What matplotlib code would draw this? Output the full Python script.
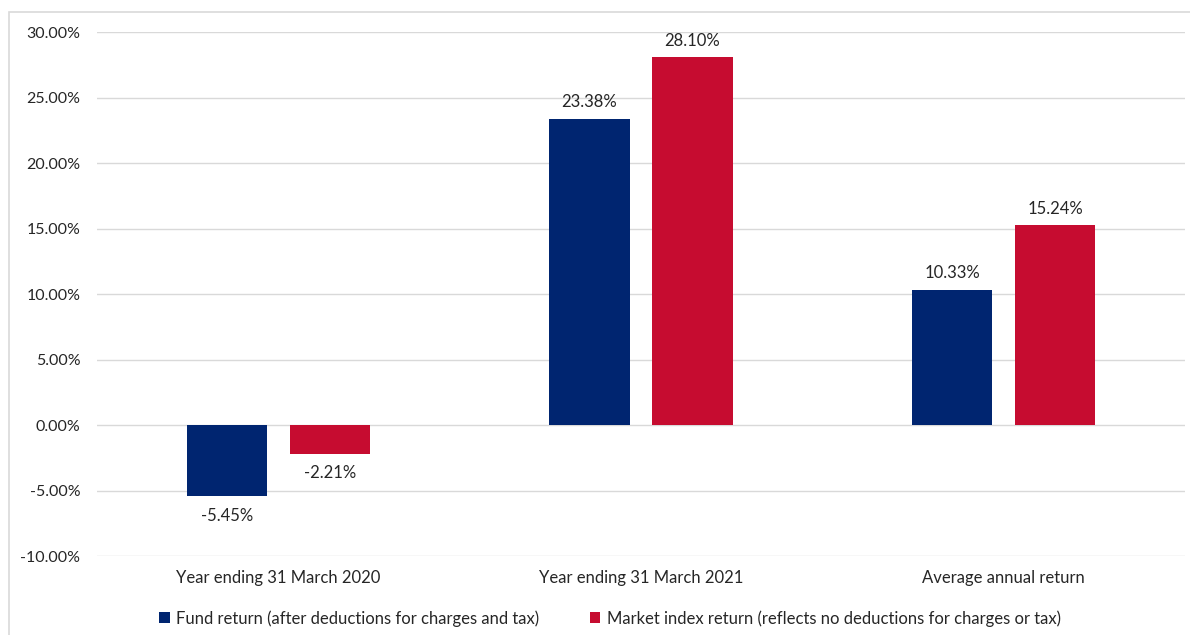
import matplotlib.pyplot as plt
import matplotlib.patches as mpatches
import numpy as np

categories = ["Year ending 31 March 2020", "Year ending 31 March 2021", "Average annual return"]
fund = [-5.45, 23.38, 10.33]
market = [-2.21, 28.10, 15.24]
series_names = ["Fund return (after deductions for charges and tax)",
                "Market index return (reflects no deductions for charges or tax)"]
yticks = [-10, -5, 0, 5, 10, 15, 20, 25, 30]

blue = "#002570"
red = "#C60C30"
plt.rcParams['font.family'] = ['Lato', 'DejaVu Sans']

fig = plt.figure(figsize=(11.9, 6.35), dpi=100)
ax = fig.add_axes([0.0815, 0.1244, 0.9143, 0.8252])

# light border around the chart area
fig.patches.append(mpatches.Rectangle((9 / 1190, -0.1), 1.2, 1 - 12 / 635 + 0.1,
                                      transform=fig.transFigure, fill=False,
                                      edgecolor="#d9d9d9", linewidth=1.2))

x = np.arange(len(categories))
w = 0.222
off = 0.142
b1 = ax.bar(x - off, fund, w, color=blue, label=series_names[0], zorder=3)
b2 = ax.bar(x + off, market, w, color=red, label=series_names[1], zorder=3)

for bars in (b1, b2):
    for r in bars:
        v = r.get_height()
        cx = r.get_x() + r.get_width() / 2
        if v >= 0:
            ax.annotate(f"{v:.2f}%", (cx, v), xytext=(0, 6), textcoords="offset points",
                        ha="center", va="bottom", fontsize=12, color="#262626")
        else:
            ax.annotate(f"{v:.2f}%", (cx, v), xytext=(0, -8), textcoords="offset points",
                        ha="center", va="top", fontsize=12, color="#262626")

ax.set_xlim(-0.5, 2.5)
ax.set_ylim(-10, 30)
ax.set_yticks(yticks)
ax.set_yticklabels([f"{t:.2f}%" for t in yticks], fontsize=11.5, color="#262626")
ax.set_xticks(x)
ax.set_xticklabels(categories, fontsize=12, color="#262626")
ax.tick_params(axis="both", length=0)
ax.tick_params(axis="y", pad=12)
ax.tick_params(axis="x", pad=10)
ax.grid(axis="y", color="#d9d9d9", linewidth=1, zorder=0)
for s in ax.spines.values():
    s.set_visible(False)

handles, labels = ax.get_legend_handles_labels()
fig.legend(handles, labels, loc="upper center", bbox_to_anchor=(610 / 1190, 0.063),
           ncol=2, frameon=False, fontsize=12, handlelength=0.65, handleheight=0.65,
           handletextpad=0.4, columnspacing=3.0, labelcolor="#262626")

fig.savefig("out.png", dpi=100)
